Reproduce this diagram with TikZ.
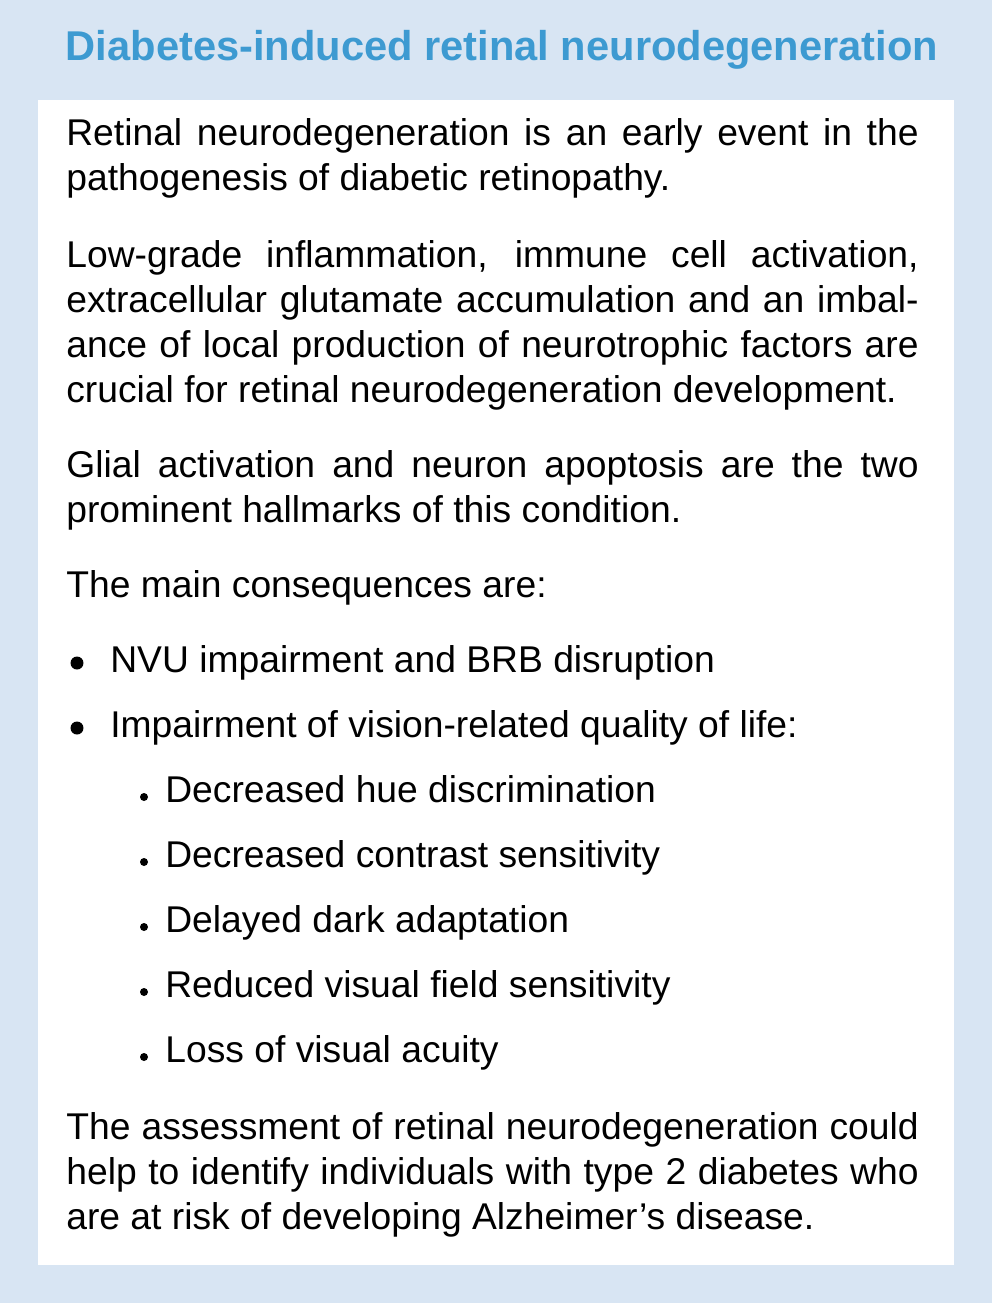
\documentclass[tikz,border=0pt]{standalone}
\usepackage{fontspec}
\setmainfont{Liberation Sans}
\definecolor{bgblue}{HTML}{D8E5F3}
\definecolor{titleblue}{HTML}{3D9AD1}
\newcommand{\fs}{\fontsize{21.2pt}{25.5pt}\selectfont}
\begin{document}
\begin{tikzpicture}[
        x=0.02cm, y=-0.02cm,
        para/.style={anchor=north west, inner sep=0pt, text width=17.05cm, align=justify, font=\fs},
        item/.style={anchor=north west, inner sep=0pt, font=\fs},
        bigdot/.style={circle, fill=black, inner sep=0pt, minimum size=0.26cm},
        smalldot/.style={circle, fill=black, inner sep=0pt, minimum size=0.16cm}
    ]
        % Frame
        \fill[bgblue] (0,0) rectangle (992,1303);
        \fill[white] (38,100) rectangle (954,1265);
        \node[font=\bfseries\fontsize{23.7pt}{28pt}\selectfont, text=titleblue] (title) at (502,50) {Diabetes-induced retinal neurodegeneration};

        % Paragraphs
        \node[para] (p1) at (66,114) {\strut Retinal neurodegeneration is an early event in the\linebreak pathogenesis of diabetic retinopathy.};
        \node[para] (p2) at (66,236) {\strut Low-grade inflammation, immune cell activation,\linebreak extracellular glutamate accumulation and an imbal-\linebreak ance of local production of neurotrophic factors are\linebreak crucial for retinal neurodegeneration development.};
        \node[para] (p3) at (66,446) {\strut Glial activation and neuron apoptosis are the two\linebreak prominent hallmarks of this condition.};
        \node[para] (p4) at (66,566) {\strut The main consequences are:};

        % Bullets
        \node[bigdot] (d1) at (77,663) {};
        \node[item] (b1) at (110,641) {\strut NVU impairment and BRB disruption};
        \node[bigdot] (d2) at (77,728) {};
        \node[item] (b2) at (110,706) {\strut Impairment of vision-related quality of life:};

        % Sub bullets
        \foreach \i/\txt in {0/Decreased hue discrimination, 1/Decreased contrast sensitivity, 2/Delayed dark adaptation, 3/Reduced visual field sensitivity, 4/Loss of visual acuity} {
            \node[smalldot] (sd\i) at (144,797+65*\i) {};
            \node[item] (s\i) at (165,771+65*\i) {\strut\txt};
        }

        \node[para] (p5) at (66,1108) {\strut The assessment of retinal neurodegeneration could\linebreak help to identify individuals with type 2 diabetes who\linebreak are at risk of developing Alzheimer's disease.};
    \end{tikzpicture}
\end{document}
